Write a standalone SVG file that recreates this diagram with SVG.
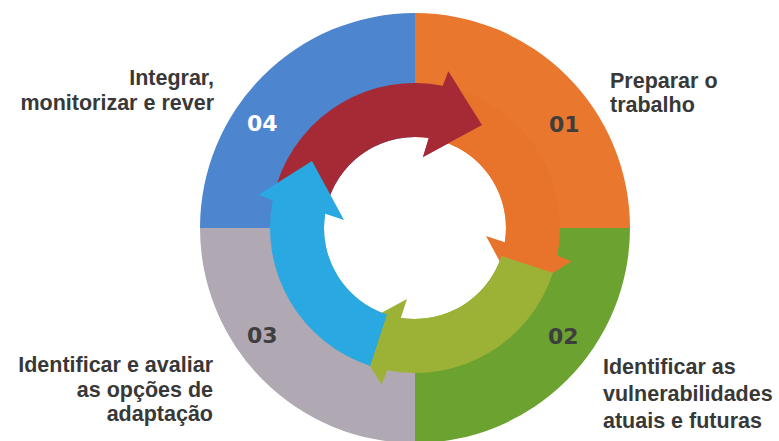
<svg xmlns="http://www.w3.org/2000/svg" xmlns:xlink="http://www.w3.org/1999/xlink" width="779" height="441" viewBox="0 0 779 441">
<style>
.lbl{font-family:"Liberation Sans","DejaVu Sans",Arial,sans-serif;font-weight:700;font-size:21.5px;fill:#383838}
.num{font-family:"DejaVu Sans","Liberation Sans",sans-serif;font-weight:700;font-size:22px;fill:#3e3e3e}
.end{text-anchor:end}
</style>
<defs>
<path id="arrow" d="M 277.1 183.2 A 145 145 0 0 1 442.7 85.7 L 448.3 71.5 L 482 125 L 423 157 L 429.2 138.1 A 91 91 0 0 0 328.5 199.9 Z"/>
<path id="head" d="M 448.3 71.5 L 482 125 L 423 157 Z"/>
</defs>
<rect width="779" height="441" fill="#ffffff"/>
<g id="node-01">
<path d="M 415 13 A 215 215 0 0 1 630 228 L 506 228 A 91 91 0 0 0 415 137 Z" fill="#e9772e"/>
<text class="num" x="549" y="132">01</text>
<text class="lbl" x="610" y="88">Preparar o</text>
<text class="lbl" x="610" y="112">trabalho</text>
</g>
<g id="node-02">
<path d="M 630 228 A 215 215 0 0 1 415 443 L 415 319 A 91 91 0 0 0 506 228 Z" fill="#6ca22f"/>
<text class="num" x="548" y="344">02</text>
<text class="lbl" x="603" y="374">Identificar as</text>
<text class="lbl" x="603" y="401">vulnerabilidades</text>
<text class="lbl" x="603" y="428">atuais e futuras</text>
</g>
<g id="node-03">
<path d="M 415 443 A 215 215 0 0 1 200 228 L 324 228 A 91 91 0 0 0 415 319 Z" fill="#b0a8b3"/>
<text class="num" x="247" y="343">03</text>
<text class="lbl end" x="213" y="372">Identificar e avaliar</text>
<text class="lbl end" x="213" y="397">as opções de</text>
<text class="lbl end" x="213" y="421">adaptação</text>
</g>
<g id="node-04">
<path d="M 200 228 A 215 215 0 0 1 415 13 L 415 137 A 91 91 0 0 0 324 228 Z" fill="#4d85cf"/>
<text class="num" x="247" y="131" style="fill:#ffffff">04</text>
<text class="lbl end" x="214" y="85">Integrar,</text>
<text class="lbl end" x="214" y="110">monitorizar e rever</text>
</g>
<g id="connectors">
<use xlink:href="#arrow" href="#arrow" fill="#a52a36"/>
<use xlink:href="#arrow" href="#arrow" fill="#e8742c" transform="rotate(90 415 228)"/>
<use xlink:href="#arrow" href="#arrow" fill="#9cb236" transform="rotate(180 415 228)"/>
<use xlink:href="#arrow" href="#arrow" fill="#29a8e1" transform="rotate(270 415 228)"/>
<use xlink:href="#head" href="#head" fill="#a52a36"/>
</g>
</svg>
